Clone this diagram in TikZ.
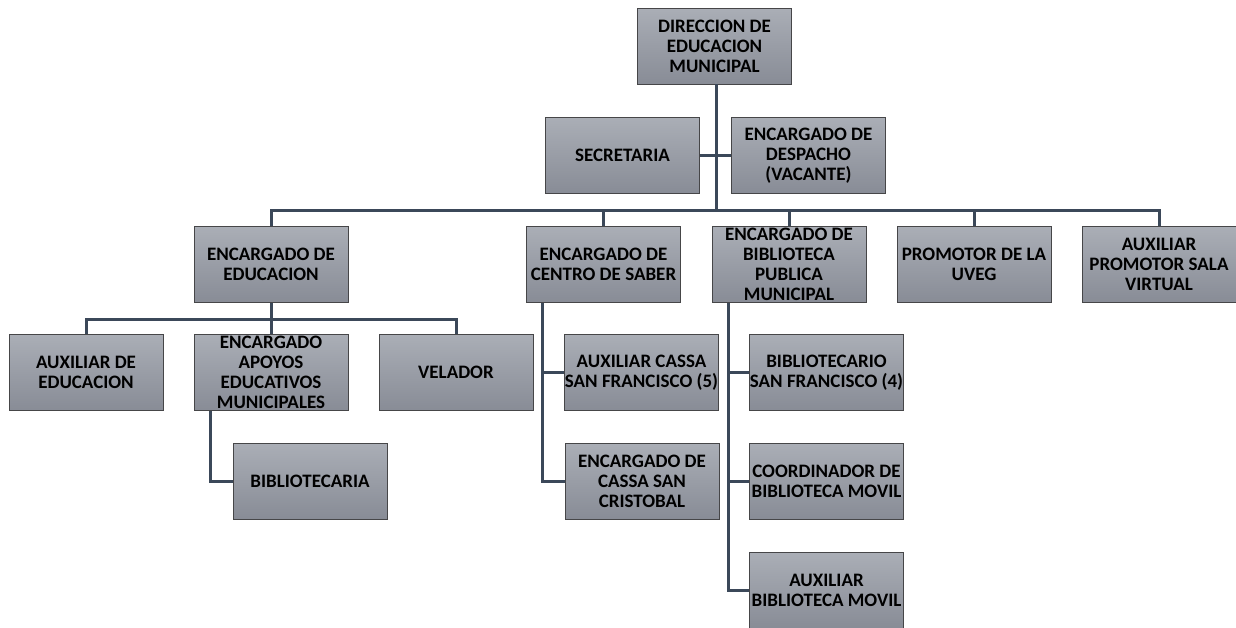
\documentclass[tikz,border=0pt]{standalone}
\usepackage{fontspec}
\setmainfont{Carlito}
\definecolor{cajaArriba}{RGB}{170,174,182}
\definecolor{cajaAbajo}{RGB}{136,140,150}
\definecolor{borde}{RGB}{70,70,72}
\definecolor{linea}{RGB}{59,72,89}
\begin{document}
\begin{tikzpicture}[
		x=1pt, y=-1pt,
		puesto/.style={
				draw=borde,
				line width=0.9pt,
				top color=cajaArriba,
				bottom color=cajaAbajo,
				text=black,
				align=center,
				font=\bfseries\fontsize{19}{20}\selectfont,
				inner sep=0pt,
				minimum width=154pt,
				minimum height=76pt
			},
		rama/.style={draw=linea, line width=3pt}
	]
	\useasboundingbox (0,0) rectangle (1236,627);
	% direccion
	\node[puesto] (dir) at (714.5,46) {DIRECCION DE\\EDUCACION\\MUNICIPAL};
	\node[puesto] (sec) at (622.5,155.5) {SECRETARIA};
	\node[puesto] (desp) at (808.5,155.5) {ENCARGADO DE\\DESPACHO\\(VACANTE)};
	% encargados
	\node[puesto] (edu) at (271,264.5) {ENCARGADO DE\\EDUCACION};
	\node[puesto] (cs) at (603.5,264.5) {ENCARGADO DE\\CENTRO DE SABER};
	\node[puesto] (bib) at (789,264.5) {ENCARGADO DE\\BIBLIOTECA\\PUBLICA\\MUNICIPAL};
	\node[puesto] (uveg) at (974,264.5) {PROMOTOR DE LA\\UVEG};
	\node[puesto] (sala) at (1159,264.5) {AUXILIAR\\PROMOTOR SALA\\VIRTUAL};
	% educacion
	\node[puesto] (auxedu) at (86,372.5) {AUXILIAR DE\\EDUCACION};
	\node[puesto] (apoyos) at (271,372.5) {ENCARGADO\\APOYOS\\EDUCATIVOS\\MUNICIPALES};
	\node[puesto] (vel) at (456,372.5) {VELADOR};
	\node[puesto] (biblio) at (310,481) {BIBLIOTECARIA};
	% centro de saber
	\node[puesto] (cassa) at (641.5,372.5) {AUXILIAR CASSA\\SAN FRANCISCO (5)};
	\node[puesto] (cristobal) at (642,481) {ENCARGADO DE\\CASSA SAN\\CRISTOBAL};
	% biblioteca
	\node[puesto] (bibsf) at (826.5,372.5) {BIBLIOTECARIO\\SAN FRANCISCO (4)};
	\node[puesto] (coord) at (826.5,481) {COORDINADOR DE\\BIBLIOTECA MOVIL};
	\node[puesto] (auxmov) at (826.5,590.5) {AUXILIAR\\BIBLIOTECA MOVIL};

	\coordinate (bus) at (716,210);
	\coordinate (busedu) at (271,319);
	\draw[rama] (dir.south -| bus) -- (bus);
	\draw[rama] (sec.east) -- (desp.west);
	\draw[rama] (edu.north) |- (bus) -| (sala.north);
	\draw[rama] (cs.north) -- (cs.north |- bus);
	\draw[rama] (bib.north) -- (bib.north |- bus);
	\draw[rama] (uveg.north) -- (uveg.north |- bus);
	% hijos de educacion
	\draw[rama] (edu.south) -- (apoyos.north);
	\draw[rama] (auxedu.north) |- (busedu) -| (vel.north);
	\draw[rama] ([xshift=-61pt]apoyos.south) |- (biblio.west);
	% hijos de centro de saber
	\draw[rama] ([xshift=-61.5pt]cs.south) |- (cristobal.west);
	\draw[rama] ([xshift=-61.5pt]cs.south |- cassa.west) -- (cassa.west);
	% hijos de biblioteca
	\draw[rama] ([xshift=-61pt]bib.south) |- (auxmov.west);
	\draw[rama] ([xshift=-61pt]bib.south |- bibsf.west) -- (bibsf.west);
	\draw[rama] ([xshift=-61pt]bib.south |- coord.west) -- (coord.west);
\end{tikzpicture}
\end{document}
